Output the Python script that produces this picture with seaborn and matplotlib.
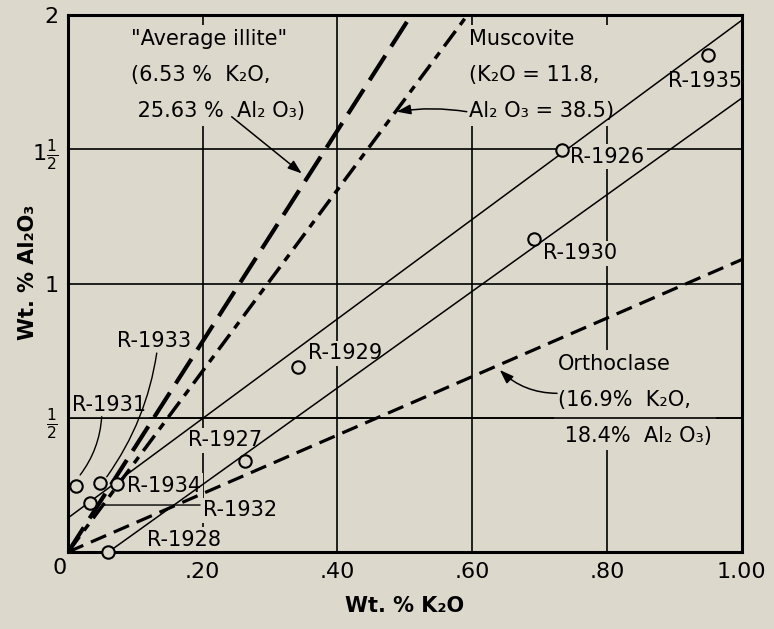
import numpy as np
import pandas as pd
import matplotlib
matplotlib.use("Agg")
import matplotlib.pyplot as plt
import seaborn as sns

# sample points (wt % K2O, wt % Al2O3)
samples = ['R-1935', 'R-1926', 'R-1930', 'R-1929', 'R-1927',
           'R-1931', 'R-1933', 'R-1934', 'R-1932', 'R-1928']
k2o = [0.950, 0.733, 0.692, 0.342, 0.263, 0.012, 0.048, 0.072, 0.032, 0.060]
al2o3 = [1.851, 1.497, 1.165, 0.690, 0.340, 0.246, 0.256, 0.252, 0.184, 0.0]

# label anchor (left edge, vertical centre) of each sample name
label_x = [0.891, 0.745, 0.705, 0.357, 0.178, 0.006, 0.073, 0.087, 0.2005, 0.117]
label_y = [1.754, 1.472, 1.113, 0.741, 0.417, 0.547, 0.786, 0.246, 0.156, 0.045]

# reference mineral lines
illite_k2o, illite_al2o3 = 6.53, 25.63
ortho_k2o, ortho_al2o3 = 16.9, 18.4
musc_x = [0.0, 0.593]
musc_y = [0.0, 2.0]
# two thin trend lines through the samples
upper_x = [0.0, 1.0]
upper_y = [0.127, 1.98]
lower_x = [0.060, 1.0]
lower_y = [0.0, 1.69]

xticks = [0, 0.2, 0.4, 0.6, 0.8, 1.0]
xtick_labels = ['', '.20', '.40', '.60', '.80', '1.00']
yticks = [0, 0.5, 1, 1.5, 2]
ytick_labels = ['', r'$\frac{1}{2}$', '1', r'$1\frac{1}{2}$', '2']

bg = '#dcd9cc'

sns.set_theme(style='white')
plt.rcParams['font.family'] = ['DejaVu Sans']
plt.rcParams['mathtext.default'] = 'regular'
plt.rcParams['text.color'] = 'black'
plt.rcParams['axes.labelcolor'] = 'black'

fig = plt.figure(figsize=(7.74, 6.29), dpi=100, facecolor=bg)
ax = fig.add_axes([0.0879, 0.1224, 0.8702, 0.8537])
ax.set_facecolor(bg)

ax.set_xlim(0, 1.0)
ax.set_ylim(0, 2.0)
ax.set_xticks(xticks)
ax.set_xticklabels(xtick_labels)
ax.set_yticks(yticks)
ax.set_yticklabels(ytick_labels)
ax.tick_params(length=0, labelsize=16, colors='black', pad=7)
ax.grid(True, color='black', lw=1.2)
ax.set_axisbelow(True)
for s in ax.spines.values():
    s.set_color('black')
    s.set_linewidth(2.2)

# mineral composition lines
xx = np.array([0.0, 1.0])
ax.plot(xx, xx * illite_al2o3 / illite_k2o, color='black', lw=3,
        dashes=(7, 2.6), zorder=2)
ax.plot(musc_x, musc_y, color='black', lw=2.5,
        dashes=(5.5, 2.2, 2.2, 2.2), zorder=2)
ax.plot(xx, xx * ortho_al2o3 / ortho_k2o, color='black', lw=2.3,
        dashes=(5.2, 2.6), zorder=2)
ax.plot(upper_x, upper_y, color='black', lw=1.1, zorder=2)
ax.plot(lower_x, lower_y, color='black', lw=1.1, zorder=2)

df = pd.DataFrame({'sample': samples, 'k2o': k2o, 'al2o3': al2o3})
sns.scatterplot(data=df, x='k2o', y='al2o3', ax=ax, marker='o', s=80,
                facecolor=bg, edgecolor='black', linewidth=1.5,
                zorder=4, clip_on=False)

box = dict(boxstyle='square,pad=0.12', fc=bg, ec='none')
for name, lx, ly in zip(samples, label_x, label_y):
    ax.text(lx, ly, name, fontsize=15, ha='left', va='center',
            bbox=box, zorder=1.5)

# leader lines from names to points
lead = dict(arrowstyle='-', color='black', lw=1.0, shrinkA=0, shrinkB=0)
ax.annotate('', xy=(0.018, 0.287), xytext=(0.050, 0.504),
            arrowprops=dict(lead, connectionstyle='arc3,rad=-0.15'))
ax.annotate('', xy=(0.0575, 0.280), xytext=(0.1317, 0.741),
            arrowprops=dict(lead, connectionstyle='arc3,rad=-0.12'))
ax.annotate('', xy=(0.052, 0.175), xytext=(0.196, 0.175), arrowprops=lead)

# mineral labels
block = dict(fontsize=15, ha='left', va='center', linespacing=2.0,
             bbox=dict(boxstyle='square,pad=0.2', fc=bg, ec='none'),
             zorder=1.5)
ax.text(0.094, 1.775, '"Average illite"\n(6.53 %  K₂O,\n 25.63 %  Al₂ O₃)', **block)
ax.text(0.596, 1.775, 'Muscovite\n(K₂O = 11.8,\nAl₂ O₃ = 38.5)', **block)
ax.text(0.727, 0.566, 'Orthoclase\n(16.9%  K₂O,\n 18.4%  Al₂ O₃)', **block)
# the ½ grid line runs through the orthoclase note
ax.axhline(0.5, color='black', lw=1.2, zorder=1.6)

arrow = dict(arrowstyle='-|>,head_length=0.7,head_width=0.25', color='black',
             lw=1.1, shrinkA=0, shrinkB=0)
ax.annotate('', xy=(0.347, 1.41), xytext=(0.243, 1.621), arrowprops=arrow)
ax.annotate('', xy=(0.488, 1.640), xytext=(0.592, 1.640),
            arrowprops=dict(arrow, connectionstyle='arc3,rad=0.08'))
ax.annotate('', xy=(0.641, 0.678), xytext=(0.726, 0.591),
            arrowprops=dict(arrow, connectionstyle='arc3,rad=-0.2'))

# shared origin label
ax.text(-0.012, -0.06, '0', fontsize=16, ha='center', va='center',
        clip_on=False)

ax.set_xlabel('Wt. % K₂O', fontsize=15, fontweight='bold', labelpad=10)
ax.set_ylabel('Wt. % Al₂O₃', fontsize=15, fontweight='bold')
ax.yaxis.set_label_coords(-0.045, 0.52)

fig.savefig('out.png', dpi=100, facecolor=bg)
